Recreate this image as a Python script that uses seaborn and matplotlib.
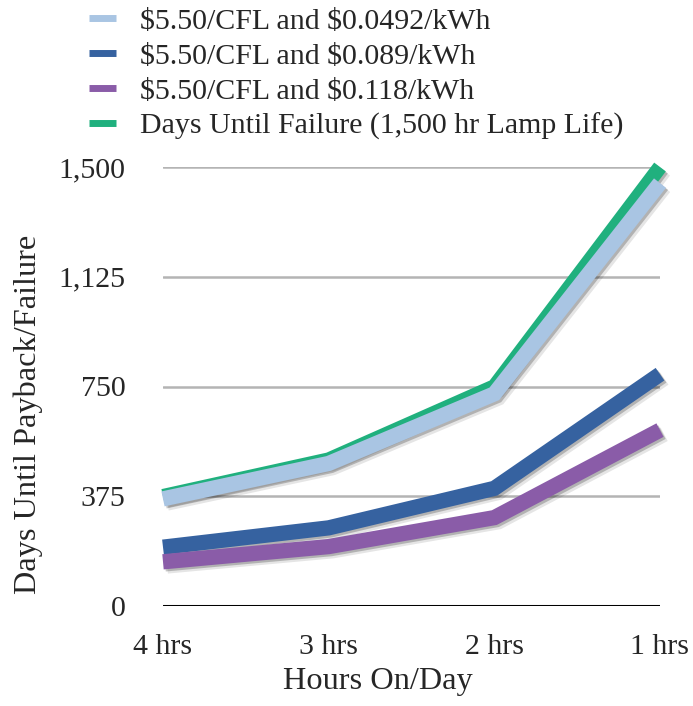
import matplotlib
matplotlib.use("Agg")
import matplotlib.pyplot as plt
import matplotlib.patheffects as pe
from matplotlib.lines import Line2D
import seaborn as sns
import pandas as pd

# Hours per day the lamp is on
hours = ["4 hrs", "3 hrs", "2 hrs", "1 hrs"]

# Days until payback for each electricity rate, and days until lamp failure
payback_0492 = [366, 487, 725, 1445]
payback_089 = [201, 267, 402, 792]
payback_118 = [151, 203, 302, 601]
days_to_failure = [375, 500, 750, 1500]

series_names = [
    "$5.50/CFL and $0.0492/kWh",
    "$5.50/CFL and $0.089/kWh",
    "$5.50/CFL and $0.118/kWh",
    "Days Until Failure (1,500 hr Lamp Life)",
]
series_values = [payback_0492, payback_089, payback_118, days_to_failure]
colors = ["#A9C5E3", "#3662A0", "#8A5CA8", "#20B07E"]

y_ticks = [0, 375, 750, 1125, 1500]
y_tick_labels = ["0", "375", "750", "1,125", "1,500"]

rows = []
for name, vals in zip(series_names, series_values):
    for h, v in zip(hours, vals):
        rows.append({"Hours": h, "Days": v, "Series": name})
df = pd.DataFrame(rows)

sns.set_style("white")
plt.rcParams["font.family"] = ["Liberation Serif", "DejaVu Serif"]
FS = 21.5
FS_TITLE = 23.3

fig = plt.figure(figsize=(6.93, 7.06), dpi=100)
W, H = 693, 706
x0, x1, y_bot, y_top = 163, 660, 606, 167
ax = fig.add_axes([x0 / W, 1 - y_bot / H, (x1 - x0) / W, (y_bot - y_top) / H])

# failure curve sits underneath the payback curves
df_fail = df[df["Series"] == series_names[3]]
df_pay = df[df["Series"] != series_names[3]]
palette = dict(zip(series_names, colors))

sns.lineplot(data=df_fail, x="Hours", y="Days", hue="Series", palette=palette,
             sort=False, ax=ax, legend=False, linewidth=10.5)
sns.lineplot(data=df_pay, x="Hours", y="Days", hue="Series", palette=palette,
             hue_order=series_names[:3], sort=False, ax=ax, legend=False,
             linewidth=11)

shadow = [
    pe.SimpleLineShadow(offset=(1.5, -1.5), shadow_color="black", alpha=0.22),
    pe.SimpleLineShadow(offset=(3, -3), shadow_color="black", alpha=0.10),
    pe.Normal(),
]
for ln in ax.get_lines():
    ln.set_solid_capstyle("butt")
    ln.set_solid_joinstyle("miter")
    ln.set_clip_on(False)
    ln.set_path_effects(shadow)
ax.get_lines()[0].set_zorder(3)
for ln in ax.get_lines()[1:]:
    ln.set_zorder(4)

ax.set_xlim(0, 3)
ax.set_ylim(0, 1500)
ax.set_yticks(y_ticks)
ax.set_yticklabels(y_tick_labels)
for y in y_ticks[1:]:
    ax.axhline(y, color="#b4b4b4", linewidth=1.8, zorder=1)
ax.axhline(0, color="black", linewidth=2.2, zorder=2)

for s in ax.spines.values():
    s.set_visible(False)
ax.tick_params(axis="y", length=0, pad=27, labelsize=FS)
ax.tick_params(axis="x", length=0, pad=20.5, labelsize=FS)
ax.set_xlabel("Hours On/Day", fontsize=FS_TITLE)
ax.set_ylabel("Days Until Payback/Failure", fontsize=FS_TITLE)
ax.xaxis.set_label_coords(0.433, -(667 - y_bot) / (y_bot - y_top))
ax.yaxis.set_label_coords((43 - x0) / (x1 - x0), 0.437)

legend_labels = [n.replace("$", r"\$") for n in series_names]
handles = [Line2D([0], [0], color=c, linewidth=5, solid_capstyle="butt") for c in colors]
fig.legend(handles, legend_labels, loc="upper left",
           bbox_to_anchor=(89 / W, 1 - 8 / H), frameon=False, fontsize=FS,
           handlelength=0.92, handletextpad=0.8, labelspacing=0.27,
           borderpad=0, borderaxespad=0)

fig.savefig("out.png", dpi=100)
